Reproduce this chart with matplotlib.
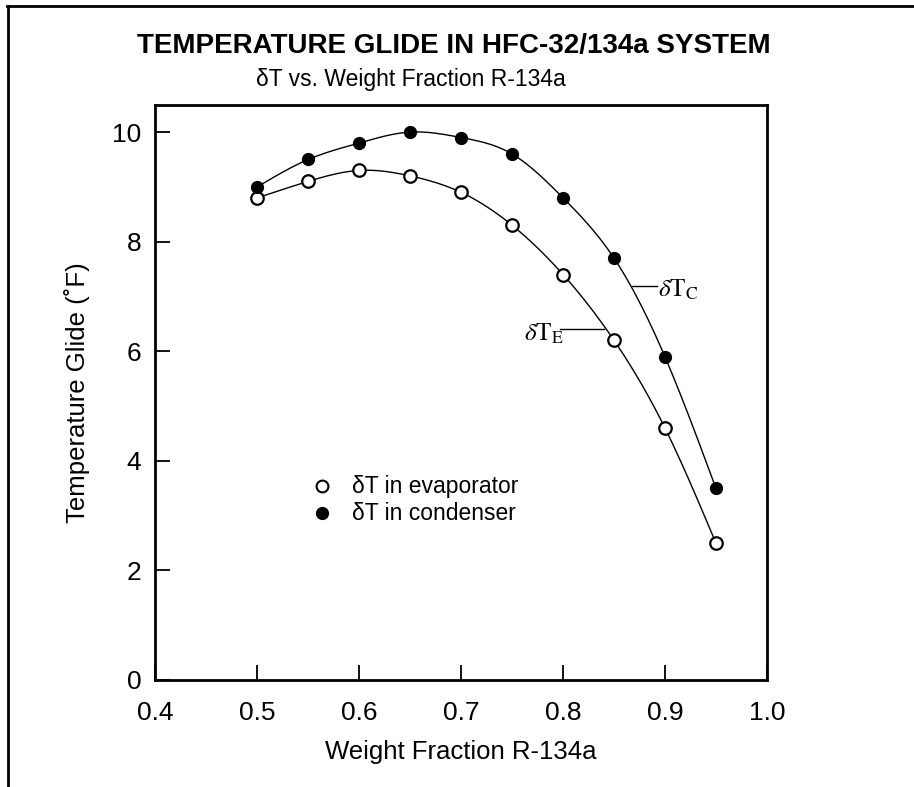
import numpy as np
import matplotlib
matplotlib.use('Agg')
import matplotlib.pyplot as plt
from matplotlib.lines import Line2D

# weight fraction of R-134a and measured glide (deg F)
fraction = [0.50, 0.55, 0.60, 0.65, 0.70, 0.75, 0.80, 0.85, 0.90, 0.95]
glide_evap = [8.8, 9.1, 9.3, 9.2, 8.9, 8.3, 7.4, 6.2, 4.6, 2.5]
glide_cond = [9.0, 9.5, 9.8, 10.0, 9.9, 9.6, 8.8, 7.7, 5.9, 3.5]

x_ticks = [0.4, 0.5, 0.6, 0.7, 0.8, 0.9, 1.0]
y_ticks = [0, 2, 4, 6, 8, 10]


def natural_spline(x, y, n=300):
    """ 自然三次样条，用于画平滑曲线 """
    x = np.asarray(x, float)
    y = np.asarray(y, float)
    k = len(x)
    h = np.diff(x)
    A = np.zeros((k, k))
    b = np.zeros(k)
    A[0, 0] = A[-1, -1] = 1.0
    for i in range(1, k - 1):
        A[i, i - 1] = h[i - 1]
        A[i, i] = 2 * (h[i - 1] + h[i])
        A[i, i + 1] = h[i]
        b[i] = 3 * ((y[i + 1] - y[i]) / h[i] - (y[i] - y[i - 1]) / h[i - 1])
    c = np.linalg.solve(A, b)
    xs = np.linspace(x[0], x[-1], n)
    idx = np.clip(np.searchsorted(x, xs) - 1, 0, k - 2)
    dx = xs - x[idx]
    bb = (y[idx + 1] - y[idx]) / h[idx] - h[idx] * (2 * c[idx] + c[idx + 1]) / 3
    d = (c[idx + 1] - c[idx]) / (3 * h[idx])
    ys = y[idx] + bb * dx + c[idx] * dx ** 2 + d * dx ** 3
    return xs, ys


plt.rcParams['font.family'] = ['Liberation Sans', 'DejaVu Sans']
plt.rcParams['mathtext.fontset'] = 'stix'

fig = plt.figure(figsize=(9.14, 7.87), dpi=100)
ax = fig.add_axes([0.170, 0.136, 0.669, 0.731])

# smooth curves through the data
xs, ys = natural_spline(fraction, glide_evap)
ax.plot(xs, ys, color='black', lw=1.0)
xs, ys = natural_spline(fraction, glide_cond)
ax.plot(xs, ys, color='black', lw=1.0)

ax.plot(fraction, glide_evap, 'o', ms=9, mfc='white', mec='black', mew=1.6)
ax.plot(fraction, glide_cond, 'o', ms=8.5, mfc='black', mec='black')

ax.set_xlim(0.4, 1.0)
ax.set_ylim(0, 10.5)
ax.set_xticks(x_ticks)
ax.set_yticks(y_ticks)
ax.set_xticklabels(['%.1f' % v for v in x_ticks])
ax.tick_params(direction='in', length=11, width=1.3, labelsize=19)
ax.tick_params(axis='x', pad=15)
ax.tick_params(axis='y', pad=10)
for s in ax.spines.values():
    s.set_linewidth(2)

ax.set_xlabel('Weight Fraction R-134a', fontsize=18.5, labelpad=11)
ax.set_ylabel('Temperature Glide (˚F)', fontsize=18.5, labelpad=16)

# curve labels
ax.text(0.893, 7.12, r'$\delta\mathrm{T}_\mathrm{C}$', fontsize=18, va='center')
ax.plot([0.868, 0.892], [7.19, 7.19], color='black', lw=1.0)
ax.text(0.762, 6.32, r'$\delta\mathrm{T}_\mathrm{E}$', fontsize=18, va='center')
ax.plot([0.797, 0.84], [6.4, 6.4], color='black', lw=1.0)

# legend drawn by hand
ax.plot([0.2725], [0.337], 'o', transform=ax.transAxes, ms=8.5,
        mfc='white', mec='black', mew=1.5, clip_on=False)
ax.plot([0.2725], [0.290], 'o', transform=ax.transAxes, ms=8.5,
        mfc='black', mec='black', clip_on=False)
ax.text(0.322, 0.337, 'δT in evaporator', transform=ax.transAxes,
        fontsize=16.5, va='center')
ax.text(0.322, 0.290, 'δT in condenser', transform=ax.transAxes,
        fontsize=16.5, va='center')

fig.text(0.497, 0.941, 'TEMPERATURE GLIDE IN HFC-32/134a SYSTEM',
         ha='center', va='center', fontsize=20, fontweight='bold')
fig.text(0.449, 0.899, 'δT vs. Weight Fraction R-134a',
         ha='center', va='center', fontsize=16.5)

# page frame lines
fig.add_artist(Line2D([0.008, 1.0], [0.993, 0.993], color='black', lw=2))
fig.add_artist(Line2D([0.009, 0.009], [0.0, 0.993], color='black', lw=2))

fig.savefig('out.png', dpi=100)
